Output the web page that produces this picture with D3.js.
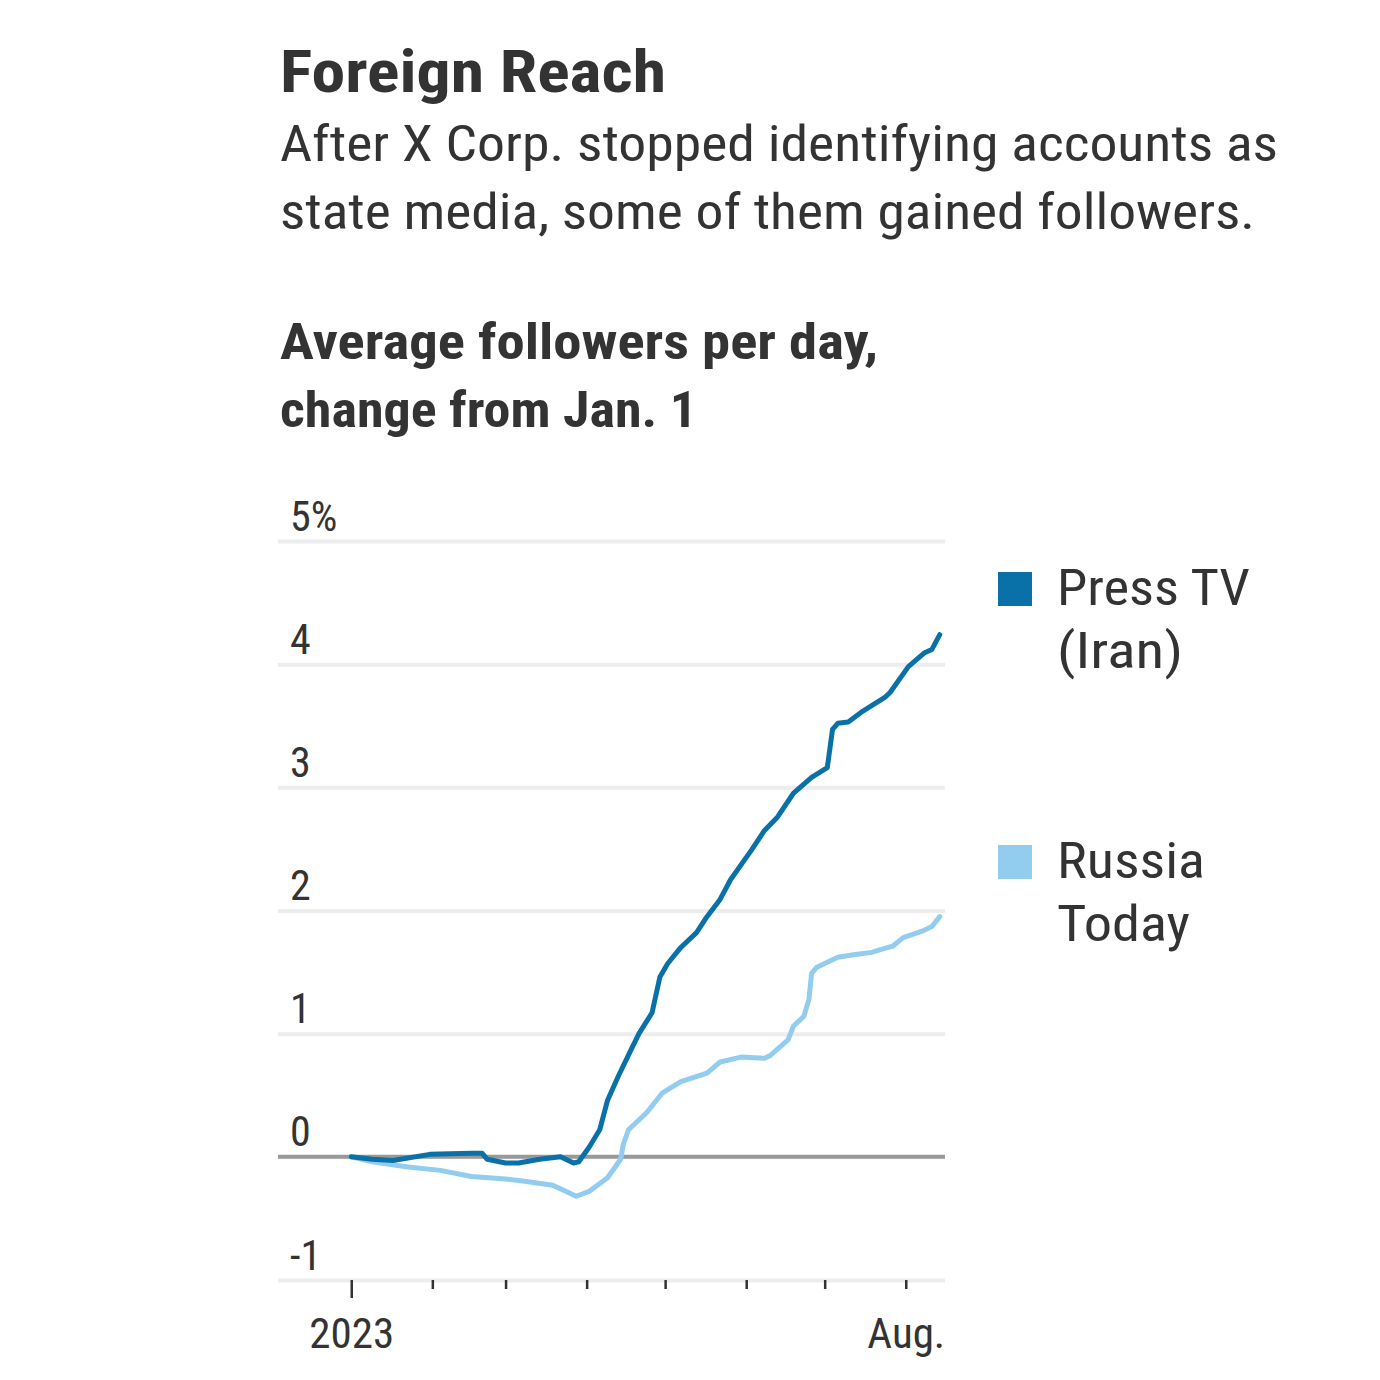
<!DOCTYPE html>
<html>
<head>
<meta charset="utf-8">
<script src="https://cdn.jsdelivr.net/npm/d3@7"></script>
<style>
  body { margin: 0; background: #fff; }
  text { font-family: "Liberation Sans Narrow", "Roboto Condensed", "DejaVu Sans Condensed", Roboto, sans-serif; }
</style>
</head>
<body>
<script>

// Press TV (Iran), average followers per day, % change from Jan. 1
var pressDates = ["2023-01-01","2023-01-09","2023-01-17","2023-01-31","2023-02-16","2023-02-20","2023-02-22",
    "2023-03-01","2023-03-06","2023-03-14","2023-03-22","2023-03-27","2023-03-29","2023-04-02","2023-04-06",
    "2023-04-09","2023-04-13","2023-04-18","2023-04-21","2023-04-26","2023-04-29","2023-05-02","2023-05-07",
    "2023-05-13","2023-05-17","2023-05-22","2023-05-26","2023-06-03","2023-06-08","2023-06-13","2023-06-19",
    "2023-06-26","2023-07-02","2023-07-04","2023-07-06","2023-07-10","2023-07-15","2023-07-24","2023-07-26",
    "2023-08-02","2023-08-08","2023-08-11","2023-08-14"];
var pressValues = [0.00, -0.02, -0.03, 0.02, 0.03, 0.03, -0.02,
    -0.05, -0.05, -0.02, 0.00, -0.05, -0.04, 0.08, 0.22,
    0.46, 0.65, 0.87, 1.00, 1.17, 1.46, 1.57, 1.70,
    1.82, 1.95, 2.09, 2.25, 2.49, 2.65, 2.76, 2.95,
    3.08, 3.16, 3.47, 3.52, 3.53, 3.61, 3.73, 3.77,
    3.98, 4.09, 4.12, 4.24];

// Russia Today
var russiaDates = ["2023-01-01","2023-01-09","2023-01-22","2023-02-04","2023-02-16","2023-03-01","2023-03-09",
    "2023-03-19","2023-03-24","2023-03-28","2023-04-02","2023-04-09","2023-04-14","2023-04-15","2023-04-17",
    "2023-04-24","2023-04-30","2023-05-07","2023-05-17","2023-05-22","2023-05-30","2023-06-08","2023-06-10",
    "2023-06-17","2023-06-19","2023-06-23","2023-06-25","2023-06-26","2023-06-28","2023-07-06","2023-07-12",
    "2023-07-19","2023-07-22","2023-07-27","2023-07-31","2023-08-07","2023-08-11","2023-08-14"];
var russiaValues = [0.00, -0.04, -0.08, -0.11, -0.16, -0.18, -0.20,
    -0.23, -0.28, -0.32, -0.28, -0.17, -0.02, 0.10, 0.22,
    0.36, 0.52, 0.61, 0.68, 0.77, 0.81, 0.80, 0.82,
    0.95, 1.06, 1.14, 1.28, 1.49, 1.54, 1.62, 1.64,
    1.66, 1.68, 1.71, 1.78, 1.83, 1.87, 1.95];

var yTicks = [-1, 0, 1, 2, 3, 4, 5];
var xTickDates = ["2023-01-01","2023-02-01","2023-03-01","2023-04-01","2023-05-01","2023-06-01","2023-07-01","2023-08-01"];
var xTickLabels = {"2023-01-01": "2023", "2023-08-01": "Aug."};

var seriesNames = [["Press TV", "(Iran)"], ["Russia", "Today"]];
var seriesColors = ["#0a71a8", "#92ccef"];

var W = 1380, H = 1380;
var plot = { left: 278, right: 945, top: 541, bottom: 1280 };

var parse = d3.utcParse("%Y-%m-%d");

var svg = d3.select("body").append("svg")
    .attr("width", W)
    .attr("height", H);

// titles
svg.append("text").text("Foreign Reach")
    .attr("x", 280).attr("y", 92)
    .attr("font-size", 60).attr("font-weight", "bold").attr("fill", "#333")
    .attr("textLength", 386).attr("lengthAdjust", "spacingAndGlyphs");

var subLines = ["After X Corp. stopped identifying accounts as", "state media, some of them gained followers."];
var subWidths = [998, 975];
subLines.forEach(function (s, i) {
    svg.append("text").text(s)
        .attr("x", 280).attr("y", 161 + i * 68)
        .attr("font-size", 50).attr("fill", "#333")
        .attr("textLength", subWidths[i]).attr("lengthAdjust", "spacingAndGlyphs");
});

var labLines = ["Average followers per day,", "change from Jan. 1"];
var labWidths = [598, 417];
labLines.forEach(function (s, i) {
    svg.append("text").text(s)
        .attr("x", 280).attr("y", 359 + i * 68)
        .attr("font-size", 50).attr("font-weight", "bold").attr("fill", "#333")
        .attr("textLength", labWidths[i]).attr("lengthAdjust", "spacingAndGlyphs");
});

// scales
var x = d3.scaleUtc()
    .domain([parse("2022-12-04"), parse("2023-08-16")])
    .range([plot.left, plot.right]);

var y = d3.scaleLinear()
    .domain([-1, 5])
    .range([plot.bottom, plot.top]);

// gridlines + y labels
var yAxis = svg.append("g")
    .attr("transform", "translate(" + plot.left + ",0)")
    .call(d3.axisRight(y).tickValues(yTicks).tickSize(plot.right - plot.left)
        .tickFormat(function (d) { return d === 5 ? "5%" : String(d); }));
yAxis.select(".domain").remove();
yAxis.selectAll("line").attr("stroke", "#ededed").attr("stroke-width", 4);
yAxis.selectAll("text")
    .attr("x", 12).attr("dy", -11)
    .attr("text-anchor", "start")
    .attr("font-size", 42).attr("fill", "#333");

// zero line
svg.append("line")
    .attr("x1", plot.left).attr("x2", plot.right)
    .attr("y1", y(0)).attr("y2", y(0))
    .attr("stroke", "#999").attr("stroke-width", 4);

// x axis
var xAxis = svg.append("g")
    .attr("transform", "translate(0," + plot.bottom + ")")
    .call(d3.axisBottom(x).tickValues(xTickDates.map(parse)).tickSize(9)
        .tickFormat(function (d) { return xTickLabels[d3.utcFormat("%Y-%m-%d")(d)] || ""; }));
xAxis.select(".domain").remove();
xAxis.selectAll("line").attr("stroke", "#333").attr("stroke-width", 2.5);
xAxis.selectAll(".tick").filter(function (d, i) { return i === 0; })
    .select("line").attr("y2", 18);
xAxis.selectAll("text")
    .attr("y", 68).attr("dy", 0)
    .attr("font-size", 43).attr("fill", "#333");

// lines
var line = d3.line()
    .x(function (d) { return x(d[0]); })
    .y(function (d) { return y(d[1]); });

var series = [
    pressDates.map(function (d, i) { return [parse(d), pressValues[i]]; }),
    russiaDates.map(function (d, i) { return [parse(d), russiaValues[i]]; })
];

// draw Russia first so Press TV sits on top
[1, 0].forEach(function (k) {
    svg.append("path")
        .datum(series[k])
        .attr("d", line)
        .attr("fill", "none")
        .attr("stroke", seriesColors[k])
        .attr("stroke-width", 5)
        .attr("stroke-linejoin", "round")
        .attr("stroke-linecap", "round");
});

// legend
var legendY = [572, 845];
var legendWidths = [[193, 126], [148, 133]];
seriesNames.forEach(function (names, k) {
    var g = svg.append("g").attr("transform", "translate(998," + legendY[k] + ")");
    g.append("rect").attr("width", 34).attr("height", 34).attr("fill", seriesColors[k]);
    names.forEach(function (s, j) {
        g.append("text").text(s)
            .attr("x", 59).attr("y", 33 + j * 63)
            .attr("font-size", 50).attr("fill", "#333")
            .attr("textLength", legendWidths[k][j]).attr("lengthAdjust", "spacingAndGlyphs");
    });
});

</script>
</body>
</html>
